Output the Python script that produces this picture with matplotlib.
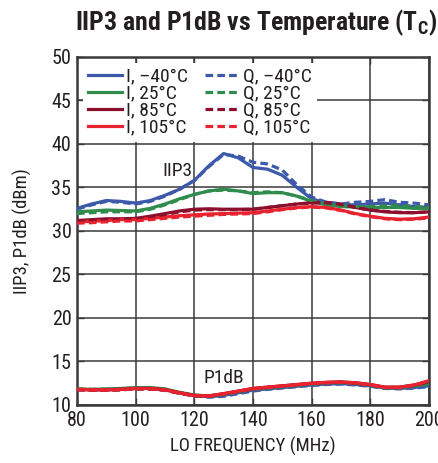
import matplotlib

matplotlib.use("Agg")
import matplotlib.pyplot as plt

# LO frequency grid (MHz) for all read-off curves
freq = [80, 85, 90, 95, 100, 105, 110, 115, 120, 125, 130, 135, 140,
        145, 150, 155, 160, 165, 170, 175, 180, 185, 190, 195, 200]

# IIP3 (dBm)
iip3_i_m40 = [32.6, 33.1, 33.5, 33.4, 33.2, 33.5, 34.1, 34.8, 35.8, 37.5, 38.9, 38.4, 37.3,
              37.1, 36.4, 35.0, 33.7, 33.2, 33.0, 33.0, 33.1, 33.2, 33.0, 32.8, 32.7]
iip3_q_m40 = [32.5, 33.0, 33.4, 33.3, 33.1, 33.4, 34.0, 34.8, 35.8, 37.4, 38.8, 38.6, 37.9,
              37.7, 37.0, 35.3, 33.9, 33.3, 33.1, 33.3, 33.4, 33.6, 33.3, 33.2, 33.0]
iip3_i_25 = [32.2, 32.3, 32.4, 32.35, 32.3, 32.6, 33.1, 33.7, 34.2, 34.6, 34.8, 34.6, 34.3,
             34.4, 34.4, 34.0, 33.4, 33.0, 32.8, 32.75, 32.7, 32.7, 32.7, 32.6, 32.6]
iip3_q_25 = [32.0, 32.1, 32.2, 32.2, 32.2, 32.5, 33.0, 33.6, 34.2, 34.6, 34.7, 34.6, 34.4,
             34.5, 34.4, 34.0, 33.5, 33.1, 32.9, 32.8, 32.8, 32.9, 32.9, 32.8, 32.7]
iip3_i_85 = [31.2, 31.3, 31.4, 31.4, 31.45, 31.7, 32.0, 32.3, 32.5, 32.55, 32.5, 32.5, 32.5,
             32.7, 32.9, 33.1, 33.25, 33.3, 33.1, 32.7, 32.4, 32.2, 32.1, 32.1, 32.2]
iip3_q_85 = [31.1, 31.2, 31.3, 31.3, 31.35, 31.6, 31.9, 32.2, 32.4, 32.45, 32.45, 32.45, 32.5,
             32.7, 32.9, 33.1, 33.2, 33.25, 33.05, 32.7, 32.4, 32.25, 32.15, 32.1, 32.2]
iip3_i_105 = [31.05, 31.1, 31.2, 31.3, 31.3, 31.45, 31.6, 31.75, 31.85, 31.95, 32.0, 32.05, 32.1,
              32.3, 32.5, 32.7, 32.8, 32.7, 32.4, 32.0, 31.7, 31.45, 31.35, 31.4, 31.6]
iip3_q_105 = [30.9, 30.95, 31.05, 31.15, 31.15, 31.3, 31.45, 31.6, 31.7, 31.8, 31.9, 31.95, 32.0,
              32.2, 32.45, 32.65, 32.75, 32.65, 32.35, 31.95, 31.65, 31.4, 31.3, 31.35, 31.5]

# P1dB (dBm)
p1db_i_m40 = [11.8, 11.75, 11.75, 11.8, 11.9, 11.9, 11.75, 11.4, 11.1, 10.95, 11.1, 11.4, 11.7,
              11.85, 12.0, 12.15, 12.3, 12.4, 12.45, 12.35, 12.2, 11.95, 11.9, 12.0, 12.2]
p1db_q_m40 = [11.75, 11.7, 11.7, 11.75, 11.85, 11.85, 11.7, 11.35, 11.05, 10.9, 11.0, 11.3, 11.6,
              11.8, 11.95, 12.1, 12.25, 12.35, 12.4, 12.3, 12.15, 11.9, 11.85, 11.95, 12.1]
p1db_i_25 = [11.85, 11.8, 11.85, 11.9, 12.0, 12.0, 11.85, 11.45, 11.15, 11.05, 11.25, 11.55, 11.85,
             12.0, 12.15, 12.3, 12.45, 12.55, 12.6, 12.5, 12.3, 12.0, 12.0, 12.2, 12.5]
p1db_q_25 = [11.8, 11.8, 11.8, 11.85, 11.95, 11.95, 11.8, 11.4, 11.1, 11.0, 11.2, 11.5, 11.8,
             11.95, 12.1, 12.25, 12.4, 12.5, 12.55, 12.45, 12.25, 11.95, 11.95, 12.15, 12.4]
p1db_i_85 = [11.8, 11.75, 11.75, 11.8, 11.9, 11.9, 11.75, 11.4, 11.1, 11.05, 11.3, 11.6, 11.9,
             12.05, 12.2, 12.35, 12.5, 12.6, 12.65, 12.55, 12.35, 12.05, 12.05, 12.3, 12.7]
p1db_q_85 = [11.75, 11.7, 11.7, 11.75, 11.85, 11.85, 11.7, 11.35, 11.05, 11.0, 11.25, 11.55, 11.85,
             12.0, 12.15, 12.3, 12.45, 12.55, 12.6, 12.5, 12.3, 12.0, 12.0, 12.25, 12.65]
p1db_i_105 = [11.8, 11.75, 11.75, 11.8, 11.9, 11.9, 11.75, 11.4, 11.1, 11.05, 11.3, 11.6, 11.9,
              12.05, 12.2, 12.35, 12.5, 12.6, 12.65, 12.55, 12.35, 12.05, 12.05, 12.3, 12.8]
p1db_q_105 = [11.75, 11.7, 11.7, 11.75, 11.85, 11.85, 11.7, 11.35, 11.05, 11.0, 11.25, 11.55, 11.85,
              12.0, 12.15, 12.3, 12.45, 12.55, 12.6, 12.5, 12.3, 12.0, 12.0, 12.25, 12.75]

temps = ["\u201340\u00b0C", "25\u00b0C", "85\u00b0C", "105\u00b0C"]
colors = ["#3c59aa", "#2f8c4c", "#8c0f2e", "#e8232f"]
iip3_i = [iip3_i_m40, iip3_i_25, iip3_i_85, iip3_i_105]
iip3_q = [iip3_q_m40, iip3_q_25, iip3_q_85, iip3_q_105]
p1db_i = [p1db_i_m40, p1db_i_25, p1db_i_85, p1db_i_105]
p1db_q = [p1db_q_m40, p1db_q_25, p1db_q_85, p1db_q_105]

xticks = [80, 100, 120, 140, 160, 180, 200]
yticks = [10, 15, 20, 25, 30, 35, 40, 45, 50]

plt.rcParams["font.family"] = ["Roboto Condensed", "DejaVu Sans"]

grid_col = "#3a3a3a"
text_col = "#231f20"

fig = plt.figure(figsize=(4.39, 4.63), dpi=100)
ax = fig.add_axes([0.1754, 0.1253, 0.8016, 0.7517])

lw = 2.3
dash = (0, (2.4, 1.3))
handles = []
for k in range(4):
    (hi,) = ax.plot(freq, iip3_i[k], color=colors[k], lw=lw, zorder=3, label=f"I, {temps[k]}")
    handles.append(hi)
for k in range(4):
    (hq,) = ax.plot(freq, iip3_q[k], color=colors[k], lw=lw, ls=dash, zorder=3, label=f"Q, {temps[k]}")
    handles.append(hq)
for k in range(4):
    ax.plot(freq, p1db_i[k], color=colors[k], lw=lw, zorder=3)
    ax.plot(freq, p1db_q[k], color=colors[k], lw=lw, ls=dash, zorder=3)

ax.set_xlim(80, 200)
ax.set_ylim(10, 50)
ax.set_xticks(xticks)
ax.set_yticks(yticks)
ax.grid(True, color=grid_col, lw=1.1, zorder=1)
ax.set_axisbelow(True)
for sp in ax.spines.values():
    sp.set_color(grid_col)
    sp.set_linewidth(1.8)
ax.tick_params(direction="in", length=5, width=1.0, color=grid_col,
               labelsize=14.5, labelcolor=text_col, top=True, right=True, pad=4)

ax.text(119.5, 36.9, "IIP3", ha="right", va="center", fontsize=14, color=text_col, zorder=4)
ax.text(130, 13.05, "P1dB", ha="center", va="center", fontsize=14, color=text_col, zorder=4)

leg = ax.legend(handles=handles, ncol=2, loc="upper left", fontsize=14, frameon=True,
                fancybox=False, framealpha=1.0, edgecolor="none", borderaxespad=0.3,
                borderpad=0.25, handlelength=1.75, handletextpad=0.2, columnspacing=0.9,
                labelspacing=-0.05)
leg.get_frame().set_linewidth(0)
for t in leg.get_texts():
    t.set_color(text_col)
leg.set_zorder(5)

ax.set_xlabel("LO FREQUENCY (MHz)", fontsize=13.5, color=text_col, labelpad=5)
ax.set_ylabel("IIP3, P1dB (dBm)", fontsize=13.5, color=text_col, labelpad=14)

fig.text(0.583, 0.952, "IIP3 and P1dB vs Temperature (T$_\\mathregular{C}$)", ha="center",
         va="center", fontsize=18.5, fontweight="bold", color=text_col)

fig.savefig("out.png", dpi=100)
